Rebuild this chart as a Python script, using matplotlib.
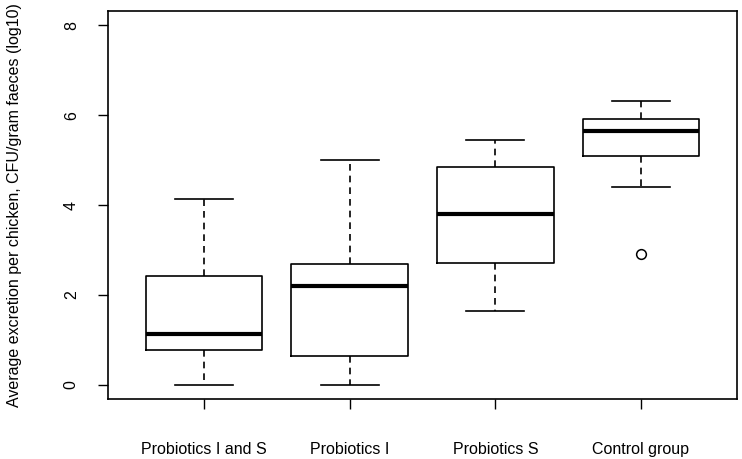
import matplotlib
matplotlib.use("Agg")
import matplotlib.pyplot as plt

# values (log10 CFU/gram faeces)
groups = ["Probiotics I and S", "Probiotics I", "Probiotics S", "Control group"]
whisker_low = [0.0, 0.0, 1.65, 4.41]
q1 = [0.77, 0.63, 2.70, 5.10]
medians = [1.13, 2.20, 3.81, 5.64]
q3 = [2.41, 2.69, 4.84, 5.91]
whisker_high = [4.13, 5.01, 5.44, 6.31]
outliers = [[], [], [], [2.90]]

yticks = [0, 2, 4, 6, 8]
ylabel = "Average excretion per chicken, CFU/gram faeces (log10)"

plt.rcParams["font.family"] = ["Liberation Sans", "DejaVu Sans"]

stats = []
for i, name in enumerate(groups):
    stats.append({
        "label": name,
        "whislo": whisker_low[i],
        "q1": q1[i],
        "med": medians[i],
        "q3": q3[i],
        "whishi": whisker_high[i],
        "fliers": outliers[i],
    })

fig = plt.figure(figsize=(7.42, 4.59), dpi=100)
ax = fig.add_axes([0.1456, 0.1307, 0.8477, 0.8453])

ax.bxp(stats, positions=range(1, len(groups) + 1), widths=0.8,
       boxprops=dict(color="black", linewidth=1.2),
       medianprops=dict(color="black", linewidth=3),
       whiskerprops=dict(color="black", linewidth=1.2, linestyle=(0, (4, 3))),
       capprops=dict(color="black", linewidth=1.2),
       capwidths=0.4,
       flierprops=dict(marker="o", markerfacecolor="none", markeredgecolor="black",
                       markersize=7, markeredgewidth=1.1))

ax.set_xlim(0.34, 4.66)
ax.set_ylim(-0.32, 8.32)
ax.set_yticks(yticks)
ax.set_yticklabels([str(t) for t in yticks], rotation=90, va="center", fontsize=11.5)
ax.set_xticks(range(1, len(groups) + 1))
ax.set_xticklabels(groups, fontsize=11.5)
ax.tick_params(axis="both", direction="out", length=7, width=1, color="black")
ax.tick_params(axis="x", pad=24)
ax.tick_params(axis="y", pad=14)
ax.set_ylabel(ylabel, fontsize=11.5, labelpad=30)
for s in ax.spines.values():
    s.set_linewidth(1.2)

fig.savefig("out.png", dpi=100)
